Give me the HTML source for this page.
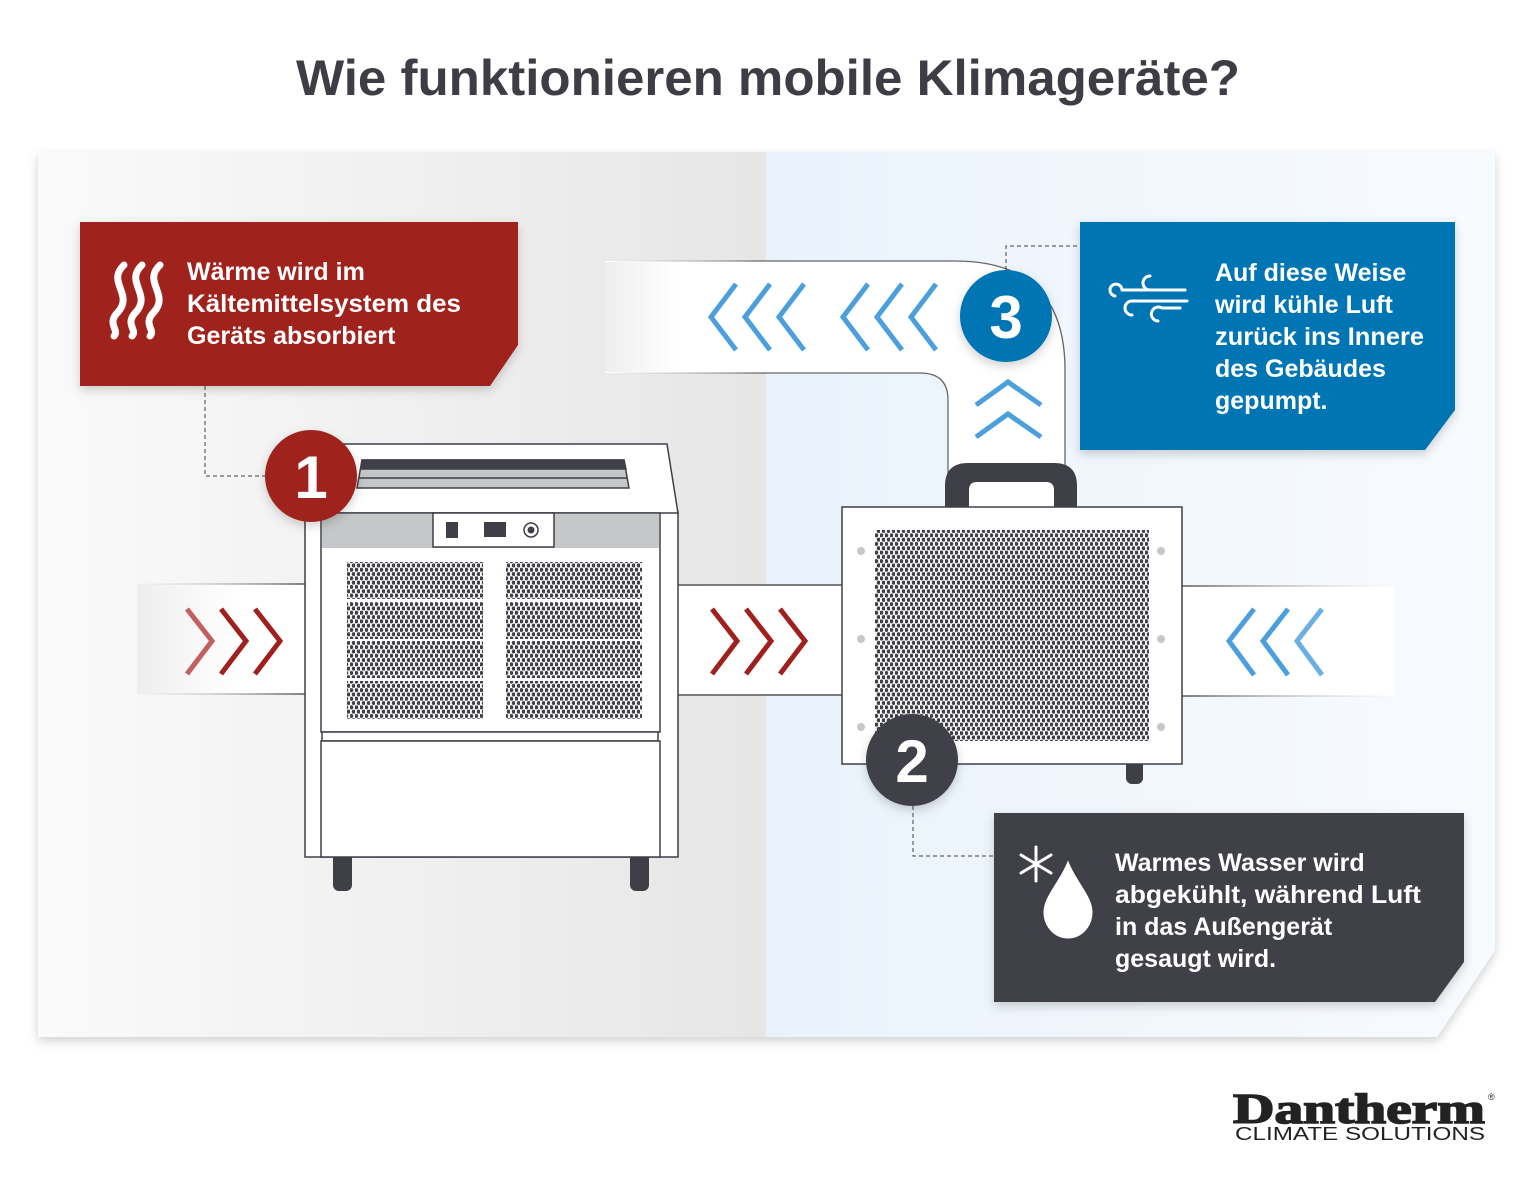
<!DOCTYPE html>
<html><head><meta charset="utf-8"><style>
html,body{margin:0;padding:0;background:#fff;}
svg{display:block;}
</style></head><body>
<svg width="1537" height="1181" viewBox="0 0 1537 1181" xmlns="http://www.w3.org/2000/svg">
<defs>
<linearGradient id="gl" x1="0" x2="1" y1="0" y2="0"><stop offset="0" stop-color="#fafafa"/><stop offset="1" stop-color="#e6e6e6"/></linearGradient>
<linearGradient id="gr" x1="0" x2="1" y1="0" y2="0"><stop offset="0" stop-color="#e9f2fb"/><stop offset="1" stop-color="#f8fbfe"/></linearGradient>
<linearGradient id="dl" x1="0" x2="1"><stop offset="0" stop-color="#eeeeee"/><stop offset="0.6" stop-color="#fff"/></linearGradient>
<linearGradient id="ln1" gradientUnits="userSpaceOnUse" x1="137" x2="307" y1="0" y2="0"><stop offset="0" stop-color="#bbb" stop-opacity="0"/><stop offset="1" stop-color="#555"/></linearGradient>
<linearGradient id="ln2" gradientUnits="userSpaceOnUse" x1="1395" x2="1181" y1="0" y2="0"><stop offset="0" stop-color="#bbb" stop-opacity="0"/><stop offset="1" stop-color="#555"/></linearGradient>
<linearGradient id="ln3" gradientUnits="userSpaceOnUse" x1="605" x2="760" y1="0" y2="0"><stop offset="0" stop-color="#bbb" stop-opacity="0"/><stop offset="1" stop-color="#666"/></linearGradient>
<pattern id="dots" width="5" height="8.6" patternUnits="userSpaceOnUse">
<circle cx="1.25" cy="2.15" r="2" fill="#3f3f48"/><circle cx="3.75" cy="6.45" r="2" fill="#3f3f48"/>
</pattern>
<filter id="sh" x="-10%" y="-10%" width="120%" height="130%"><feDropShadow dx="0" dy="4" stdDeviation="5" flood-color="#000" flood-opacity="0.18"/></filter>
</defs>

<text x="768" y="95" text-anchor="middle" font-family="Liberation Sans, sans-serif" font-weight="bold" font-size="50" fill="#3d3d45" textLength="944" lengthAdjust="spacingAndGlyphs">Wie funktionieren mobile Klimageräte?</text>

<g filter="url(#sh)">
<path d="M38 152 H1495 V950 L1437 1037 H38 Z" fill="#fff"/>
</g>
<rect x="38" y="152" width="728" height="885" fill="url(#gl)"/>
<path d="M766 152 H1495 V950 L1437 1037 H766 Z" fill="url(#gr)"/>

<!-- ducts -->
<rect x="137" y="584" width="170" height="110" fill="url(#dl)"/>
<line x1="137" y1="584" x2="307" y2="584" stroke="url(#ln1)" stroke-width="1.5"/>
<line x1="137" y1="694" x2="307" y2="694" stroke="url(#ln1)" stroke-width="1.5"/>
<rect x="678" y="585" width="166" height="110" fill="#fff"/>
<line x1="678" y1="585" x2="844" y2="585" stroke="#555" stroke-width="1.5"/>
<line x1="678" y1="695" x2="844" y2="695" stroke="#555" stroke-width="1.5"/>
<rect x="1181" y="586" width="214" height="110" fill="#fff"/>
<line x1="1181" y1="586" x2="1395" y2="586" stroke="url(#ln2)" stroke-width="1.5"/>
<line x1="1181" y1="696" x2="1395" y2="696" stroke="url(#ln2)" stroke-width="1.5"/>

<path d="M605 261 H955 Q1065 261 1065 370 V480 H948 V400 Q948 373 920 373 H605 Z" fill="#fff"/>
<rect x="605" y="262" width="120" height="110" fill="url(#dl)"/>
<path d="M760 261 H955 Q1065 261 1065 370 V480" fill="none" stroke="#666" stroke-width="1.3"/>
<path d="M760 373 H920 Q948 373 948 400 V480" fill="none" stroke="#666" stroke-width="1.3"/>
<line x1="605" y1="261" x2="760" y2="261" stroke="url(#ln3)" stroke-width="1.3"/>
<line x1="605" y1="373" x2="760" y2="373" stroke="url(#ln3)" stroke-width="1.3"/>

<g fill="none" stroke-width="5">
<path d="M187 609 L212 641 L187 674" stroke="#c06060"/>
<path d="M221 609 L246 641 L221 674" stroke="#a0201e"/>
<path d="M255 609 L280 641 L255 674" stroke="#a0201e"/>
<path d="M712 609 L737 641 L712 674" stroke="#a0201e"/>
<path d="M746 609 L771 641 L746 674" stroke="#a0201e"/>
<path d="M780 609 L805 641 L780 674" stroke="#a0201e"/>
<path d="M1254 609 L1229 641 L1254 675" stroke="#4a9fdc"/>
<path d="M1288 609 L1263 641 L1288 675" stroke="#4a9fdc"/>
<path d="M1322 609 L1297 641 L1322 675" stroke="#6ab0e2"/>
<path d="M736 284 L711 317 L736 350" stroke="#4a9fdc"/>
<path d="M770 284 L745 317 L770 350" stroke="#4a9fdc"/>
<path d="M804 284 L779 317 L804 350" stroke="#4a9fdc"/>
<path d="M868 284 L843 317 L868 350" stroke="#4a9fdc"/>
<path d="M902 284 L877 317 L902 350" stroke="#4a9fdc"/>
<path d="M936 284 L911 317 L936 350" stroke="#4a9fdc"/>
<path d="M976 405 L1008 382 L1041 405" stroke="#4a9fdc"/>
<path d="M976 437 L1008 414 L1041 437" stroke="#4a9fdc"/>
</g>

<!-- left unit -->
<g stroke="#3f3f48" stroke-width="1.5">
<rect x="333" y="850" width="19" height="41" rx="6" fill="#3f3f48" stroke="none"/>
<rect x="630" y="850" width="19" height="41" rx="6" fill="#3f3f48" stroke="none"/>
<rect x="305" y="512" width="373" height="345" fill="#fff"/>
<path d="M321 444 H667 L678 513 H305 Z" fill="#fff"/>
<rect x="321" y="513" width="339" height="219" fill="#fff"/>
<rect x="322" y="514" width="337" height="34" fill="#c6c7c9" stroke="none"/>
<rect x="433" y="513" width="121" height="34" fill="#fff"/>
<rect x="322" y="732" width="336" height="9" fill="#fff"/>
<rect x="321" y="741" width="339" height="116" fill="#fff"/>
<path d="M362 460 H624 L629 488 H357 Z" fill="#c6c7c9"/>
<path d="M362 460 H624 L626 469 H361 Z" fill="#3f3f48"/>
<line x1="359" y1="478" x2="627" y2="478"/>
</g>
<rect x="446" y="522" width="12" height="16" fill="#3f3f48"/>
<rect x="484" y="522" width="22" height="15" fill="#3f3f48"/>
<circle cx="531" cy="530" r="7" fill="none" stroke="#3f3f48" stroke-width="1.5"/>
<circle cx="531" cy="530" r="3.5" fill="#3f3f48"/>
<g fill="url(#dots)">
<rect x="347" y="562" width="136" height="37"/><rect x="506" y="562" width="136" height="37"/>
<rect x="347" y="602" width="136" height="37"/><rect x="506" y="602" width="136" height="37"/>
<rect x="347" y="641" width="136" height="37"/><rect x="506" y="641" width="136" height="37"/>
<rect x="347" y="681" width="136" height="38"/><rect x="506" y="681" width="136" height="38"/>
</g>

<!-- right unit -->
<rect x="1126" y="755" width="17" height="29" rx="6" fill="#3f3f48"/>
<path d="M945 507 V486 Q945 463 968 463 H1054 Q1077 463 1077 486 V507 Z" fill="#3f3f48"/>
<path d="M969 507 V490 Q969 482 977 482 H1046 Q1054 482 1054 490 V507 Z" fill="#fff"/>
<rect x="842" y="507" width="340" height="257" fill="#fff" stroke="#3f3f48" stroke-width="1.5"/>
<rect x="875" y="530" width="274" height="211" fill="url(#dots)"/>
<g fill="#c6c7c9">
<circle cx="861" cy="551" r="4"/><circle cx="861" cy="639" r="4"/><circle cx="861" cy="727" r="4"/>
<circle cx="1161" cy="551" r="4"/><circle cx="1161" cy="639" r="4"/><circle cx="1161" cy="727" r="4"/>
</g>

<g fill="none" stroke="#3f3f48" stroke-width="1" stroke-dasharray="4,3">
<path d="M205 386 V476 H265"/>
<path d="M1006 270 V246 H1080"/>
<path d="M913 806 V856 H994"/>
</g>

<g filter="url(#sh)">
<path d="M80 222 H518 V345 L490 386 H80 Z" fill="#a0201e"/>
<path d="M1080 222 H1455 V410 L1425 450 H1080 Z" fill="#0075b4"/>
<path d="M994 813 H1464 V962 L1435 1002 H994 Z" fill="#3f3f48"/>
</g>
<g font-family="Liberation Sans, sans-serif" font-weight="bold" font-size="25" fill="#fff">
<text x="187" y="280">Wärme wird im</text>
<text x="187" y="312" textLength="274" lengthAdjust="spacingAndGlyphs">Kältemittelsystem des</text>
<text x="187" y="344">Geräts absorbiert</text>
<text x="1215" y="281">Auf diese Weise</text>
<text x="1215" y="313">wird kühle Luft</text>
<text x="1215" y="345" textLength="209" lengthAdjust="spacingAndGlyphs">zurück ins Innere</text>
<text x="1215" y="377">des Gebäudes</text>
<text x="1215" y="409">gepumpt.</text>
<text x="1115" y="871">Warmes Wasser wird</text>
<text x="1115" y="903" textLength="306" lengthAdjust="spacingAndGlyphs">abgekühlt, während Luft</text>
<text x="1115" y="935">in das Außengerät</text>
<text x="1115" y="967">gesaugt wird.</text>
</g>

<!-- icons -->
<g fill="none" stroke="#fff" stroke-width="7" stroke-linecap="round">
<path d="M124 265 C106 282,134 294,118 312 C106 324,120 330,114 336"/>
<path d="M142 265 C124 282,152 294,136 312 C124 324,138 330,132 336"/>
<path d="M160 265 C142 282,170 294,154 312 C142 324,156 330,150 336"/>
</g>
<g fill="none" stroke="#fff" stroke-width="3" stroke-linecap="round">
<path d="M1185 290 H1122 M1115 296 A6 6 0 1 1 1122 290"/>
<path d="M1185 290 H1150 M1150 290 A7 7 0 1 1 1150 276"/>
<path d="M1187 301 H1132 M1132 301 A7 7 0 1 0 1132 315"/>
<path d="M1180 308 H1162 M1162 308 A7 7 0 1 0 1158 321"/>
</g>
<g stroke="#fff" stroke-width="3" stroke-linecap="round">
<line x1="1036" y1="847" x2="1036" y2="881"/>
<line x1="1021" y1="855" x2="1051" y2="873"/>
<line x1="1021" y1="873" x2="1051" y2="855"/>
</g>
<path d="M1068 856 C1060 880,1042 895,1042 912 C1042 928,1054 940,1068 940 C1082 940,1094 928,1094 912 C1094 895,1076 880,1068 856 Z" fill="#fff" stroke="#3f3f48" stroke-width="3"/>

<g filter="url(#sh)">
<circle cx="311" cy="476" r="46" fill="#a0201e"/>
<circle cx="1006" cy="316" r="46" fill="#0075b4"/>
<circle cx="912" cy="760" r="46" fill="#3f3f48"/>
</g>
<g font-family="Liberation Sans, sans-serif" font-weight="bold" font-size="60" fill="#fff" text-anchor="middle">
<text x="311" y="498">1</text>
<text x="1006" y="338">3</text>
<text x="912" y="782">2</text>
</g>

<text x="1233" y="1123" font-family="Liberation Serif, serif" font-weight="bold" font-size="42" fill="#222" stroke="#222" stroke-width="1.5" textLength="252" lengthAdjust="spacingAndGlyphs">Dantherm</text>
<text x="1488" y="1100" font-family="Liberation Sans, sans-serif" font-size="9" fill="#222">®</text>
<text x="1235" y="1140" font-family="Liberation Sans, sans-serif" font-size="18" fill="#222" textLength="250" lengthAdjust="spacingAndGlyphs">CLIMATE SOLUTIONS</text>
</svg>
</body></html>
